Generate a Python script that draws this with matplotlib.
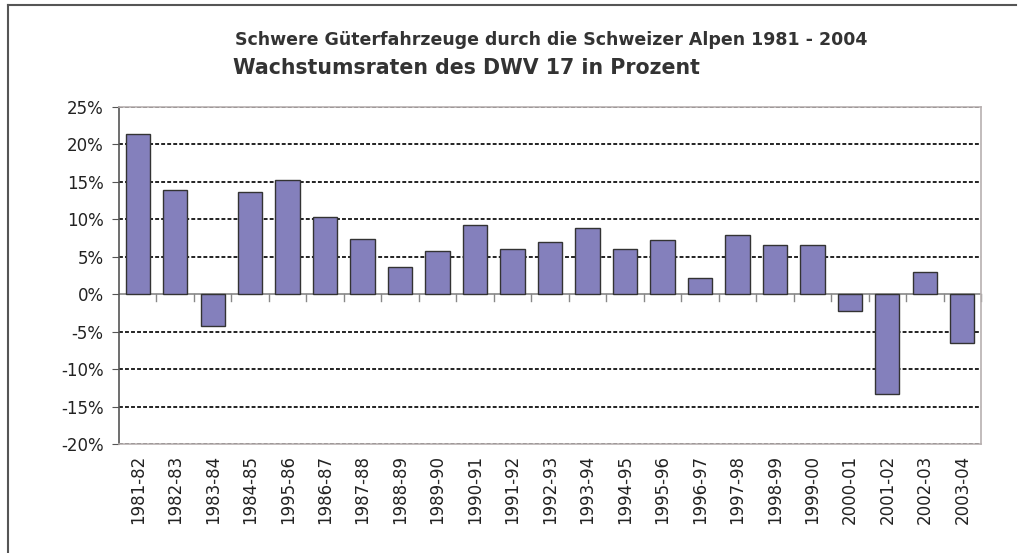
import matplotlib

matplotlib.use("Agg")
import matplotlib.pyplot as plt
import numpy as np
from matplotlib.lines import Line2D

# growth rates of the DWV 17 in percent
periods = ["1981-82", "1982-83", "1983-84", "1984-85", "1995-86", "1986-87",
           "1987-88", "1988-89", "1989-90", "1990-91", "1991-92", "1992-93",
           "1993-94", "1994-95", "1995-96", "1996-97", "1997-98", "1998-99",
           "1999-00", "2000-01", "2001-02", "2002-03", "2003-04"]
growth = [21.4, 13.9, -4.2, 13.7, 15.3, 10.3, 7.4, 3.6, 5.8, 9.2, 6.1, 7.0,
          8.8, 6.1, 7.2, 2.1, 7.9, 6.6, 6.6, -2.3, -13.3, 3.0, -6.5]
yticks = [25, 20, 15, 10, 5, 0, -5, -10, -15, -20]

title_top = "Schwere Güterfahrzeuge durch die Schweizer Alpen 1981 - 2004"
title_main = "Wachstumsraten des DWV 17 in Prozent"

plt.rcParams["font.family"] = ["DejaVu Sans"]

W, H = 1018, 553
fig = plt.figure(figsize=(W / 100, H / 100), dpi=100)
fig.patch.set_facecolor("white")

# outer chart frame: only left and top edges are in the picture
fx, fy = 7.5 / W, 1 - 5 / H
fig.lines.append(Line2D([fx, fx], [0, fy], transform=fig.transFigure,
                        color="#555555", linewidth=1.5))
fig.lines.append(Line2D([fx, 0.998], [fy, fy], transform=fig.transFigure,
                        color="#555555", linewidth=1.5))

ax = fig.add_axes([119 / W, (H - 444) / H, (981 - 119) / W, (444 - 107) / H])
xs = np.arange(len(periods))
ax.bar(xs, growth, width=0.65, color="#8480bc", edgecolor="#333333",
       linewidth=1.0, zorder=3)

ax.set_xlim(-0.5, len(periods) - 0.5)
ax.set_ylim(-20, 25)
ax.set_yticks(yticks)
ax.set_yticklabels([f"{v}%" for v in yticks], fontsize=12, color="#222222")

# dashed gridlines
for v in yticks:
    if v == 0:
        continue
    ax.axhline(v, color="#222222", linestyle=(0, (2.0, 1.1)), linewidth=1.4,
               zorder=1)

# category axis sits at zero, with ticks between bars
ax.axhline(0, color="#888888", linewidth=1.2, zorder=2)
for b in np.arange(0.5, len(periods), 1.0):
    ax.plot([b, b], [0, -0.9], color="#888888", linewidth=1.0, zorder=2,
            clip_on=False)

ax.set_xticks(xs)
ax.set_xticklabels(periods, rotation=90, fontsize=12, color="#222222")
ax.tick_params(axis="x", length=0, pad=8)
ax.tick_params(axis="y", length=5, color="#555555", direction="out", pad=6)

ax.spines["left"].set_color("#555555")
ax.spines["left"].set_linewidth(1.2)
for s in ("top", "right", "bottom"):
    ax.spines[s].set_color("#b8b0b0")
    ax.spines[s].set_linewidth(1.2)

fig.text(551 / W, 1 - 40 / H, title_top, ha="center", va="center",
         fontsize=12.5, fontweight="bold", color="#333333")
fig.text(233 / W, 1 - 68 / H, title_main, ha="left", va="center",
         fontsize=14.8, fontweight="bold", color="#333333")

fig.savefig("out.png", dpi=100)
